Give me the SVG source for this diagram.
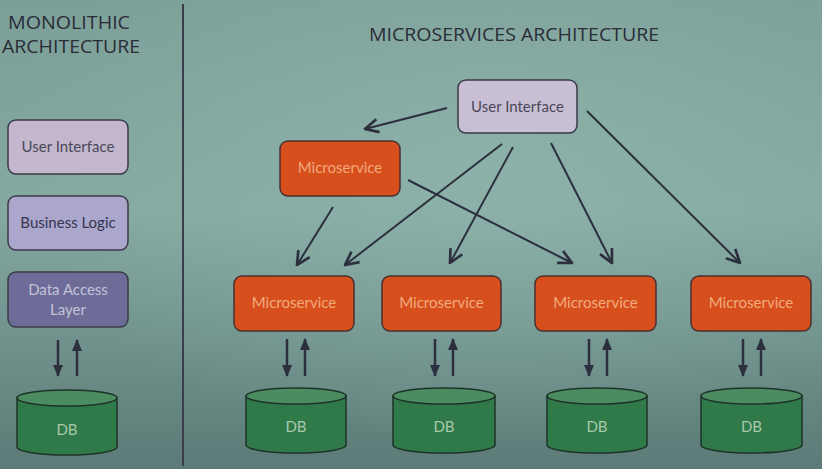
<svg xmlns="http://www.w3.org/2000/svg" width="822" height="469" viewBox="0 0 822 469">
<defs>
<linearGradient id="bg" x1="0" y1="0" x2="0" y2="1">
<stop offset="0" stop-color="#7c9f98"/>
<stop offset="0.45" stop-color="#84a9a1"/>
<stop offset="1" stop-color="#5c7a77"/>
</linearGradient>
<radialGradient id="glow" cx="0.6" cy="0.35" r="0.6">
<stop offset="0" stop-color="#92b8ae" stop-opacity="0.6"/>
<stop offset="1" stop-color="#92b8ae" stop-opacity="0"/>
</radialGradient>
<marker id="open" markerUnits="userSpaceOnUse" markerWidth="16" markerHeight="16" viewBox="0 0 12 12" refX="11" refY="6" orient="auto">
<path d="M1,1 L11,6 L1,11" fill="none" stroke="#2c2f3e" stroke-width="2"/>
</marker>
<marker id="solid" markerUnits="userSpaceOnUse" markerWidth="12" markerHeight="12" viewBox="0 0 12 12" refX="11" refY="6" orient="auto">
<path d="M0,1 L12,6 L0,11 Z" fill="#2c2f3e"/>
</marker>
<style>
.title{font-family:"Open Sans","Liberation Sans",sans-serif;font-size:18px;fill:#2a2c38}
.lbl{font-family:Lato,"Open Sans",sans-serif;font-size:15px;text-anchor:middle}
.box{stroke:#3a3a4a;stroke-width:1.5}
.ms{fill:#d64f1d;stroke:#4a3030;stroke-width:1.5}
.mst{fill:#f2aa7c}
.db{fill:#2f7a48;stroke:#1e3328;stroke-width:1.5}
.dbtop{fill:#4b8c60;stroke:#1e3328;stroke-width:1.5}
.dbt{fill:#a9c8ad}
.conn{stroke:#2c2f3e;stroke-width:2;fill:none;marker-end:url(#open)}
.io{stroke:#2c2f3e;stroke-width:2.5;fill:none;marker-end:url(#solid)}
</style>
</defs>
<rect width="822" height="469" fill="url(#bg)"/>
<rect width="822" height="469" fill="url(#glow)"/>
<line x1="183" y1="4" x2="183" y2="466" stroke="#3a3d4a" stroke-width="2"/>

<g id="titles">
<text class="title" x="8" y="29" textLength="122" lengthAdjust="spacingAndGlyphs">MONOLITHIC</text>
<text class="title" x="2" y="53" textLength="138" lengthAdjust="spacingAndGlyphs">ARCHITECTURE</text>
<text class="title" x="369" y="41" textLength="290" lengthAdjust="spacingAndGlyphs">MICROSERVICES ARCHITECTURE</text>
</g>

<g id="mono-ui">
<rect class="box" x="8" y="120" width="120" height="54" rx="8" fill="#c2b7cc"/>
<text class="lbl" x="68" y="152" fill="#4a4858">User Interface</text>
</g>
<g id="mono-bl">
<rect class="box" x="8" y="196" width="120" height="54" rx="8" fill="#aaa6cc"/>
<text class="lbl" x="68" y="228" fill="#36354e">Business Logic</text>
</g>
<g id="mono-dal">
<rect class="box" x="8" y="272" width="120" height="55" rx="8" fill="#6d6c98"/>
<text class="lbl" x="68" y="295" fill="#c3c3d6">Data Access</text>
<text class="lbl" x="68" y="315" fill="#c3c3d6">Layer</text>
</g>
<g id="mono-db">
<path class="db" d="M17,398 L17,447 A50,8 0 0 0 117,447 L117,398 Z"/>
<ellipse class="dbtop" cx="67" cy="398" rx="50" ry="8"/>
<text class="lbl dbt" x="67" y="435">DB</text>
</g>

<g id="ui">
<rect class="box" x="458" y="80" width="119" height="53" rx="8" fill="#c8bfd4"/>
<text class="lbl" x="517.5" y="112" fill="#4a4858">User Interface</text>
</g>
<g id="ms0">
<rect class="ms" x="280" y="141" width="120" height="55" rx="8"/>
<text class="lbl mst" x="340" y="173">Microservice</text>
</g>
<g id="ms1">
<rect class="ms" x="234" y="276" width="120" height="55" rx="8"/>
<text class="lbl mst" x="294" y="308">Microservice</text>
</g>
<g id="ms2">
<rect class="ms" x="382" y="276" width="119" height="55" rx="8"/>
<text class="lbl mst" x="441.5" y="308">Microservice</text>
</g>
<g id="ms3">
<rect class="ms" x="535" y="276" width="121" height="55" rx="8"/>
<text class="lbl mst" x="595.5" y="308">Microservice</text>
</g>
<g id="ms4">
<rect class="ms" x="691" y="276" width="120" height="55" rx="8"/>
<text class="lbl mst" x="751" y="308">Microservice</text>
</g>

<g id="db1">
<path class="db" d="M246,396 L246,445 A50,8 0 0 0 346,445 L346,396 Z"/>
<ellipse class="dbtop" cx="296" cy="396" rx="50" ry="8"/>
<text class="lbl dbt" x="296" y="432">DB</text>
</g>
<g id="db2">
<path class="db" d="M393,396 L393,445 A51,8 0 0 0 495,445 L495,396 Z"/>
<ellipse class="dbtop" cx="444" cy="396" rx="51" ry="8"/>
<text class="lbl dbt" x="444" y="432">DB</text>
</g>
<g id="db3">
<path class="db" d="M547,396 L547,445 A50,8 0 0 0 647,445 L647,396 Z"/>
<ellipse class="dbtop" cx="597" cy="396" rx="50" ry="8"/>
<text class="lbl dbt" x="597" y="432">DB</text>
</g>
<g id="db4">
<path class="db" d="M701,396 L701,445 A50.5,8 0 0 0 802,445 L802,396 Z"/>
<ellipse class="dbtop" cx="751.5" cy="396" rx="50.5" ry="8"/>
<text class="lbl dbt" x="751.5" y="432">DB</text>
</g>

<g id="connectors">
<line class="conn" x1="447" y1="108" x2="365" y2="129"/>
<line class="conn" x1="333" y1="207" x2="297" y2="265"/>
<line class="conn" x1="502" y1="144" x2="345" y2="265"/>
<line class="conn" x1="513" y1="147" x2="450" y2="263"/>
<line class="conn" x1="408" y1="180" x2="572" y2="263"/>
<line class="conn" x1="551" y1="143" x2="612" y2="263"/>
<line class="conn" x1="587" y1="111" x2="740" y2="263"/>

<line class="io" x1="58" y1="340" x2="58" y2="376"/>
<line class="io" x1="77" y1="376" x2="77" y2="340"/>
<line class="io" x1="287" y1="339" x2="287" y2="376"/>
<line class="io" x1="305" y1="376" x2="305" y2="339"/>
<line class="io" x1="435" y1="339" x2="435" y2="376"/>
<line class="io" x1="453" y1="376" x2="453" y2="339"/>
<line class="io" x1="589" y1="339" x2="589" y2="376"/>
<line class="io" x1="607" y1="376" x2="607" y2="339"/>
<line class="io" x1="743" y1="339" x2="743" y2="376"/>
<line class="io" x1="761" y1="376" x2="761" y2="339"/>
</g>
</svg>
